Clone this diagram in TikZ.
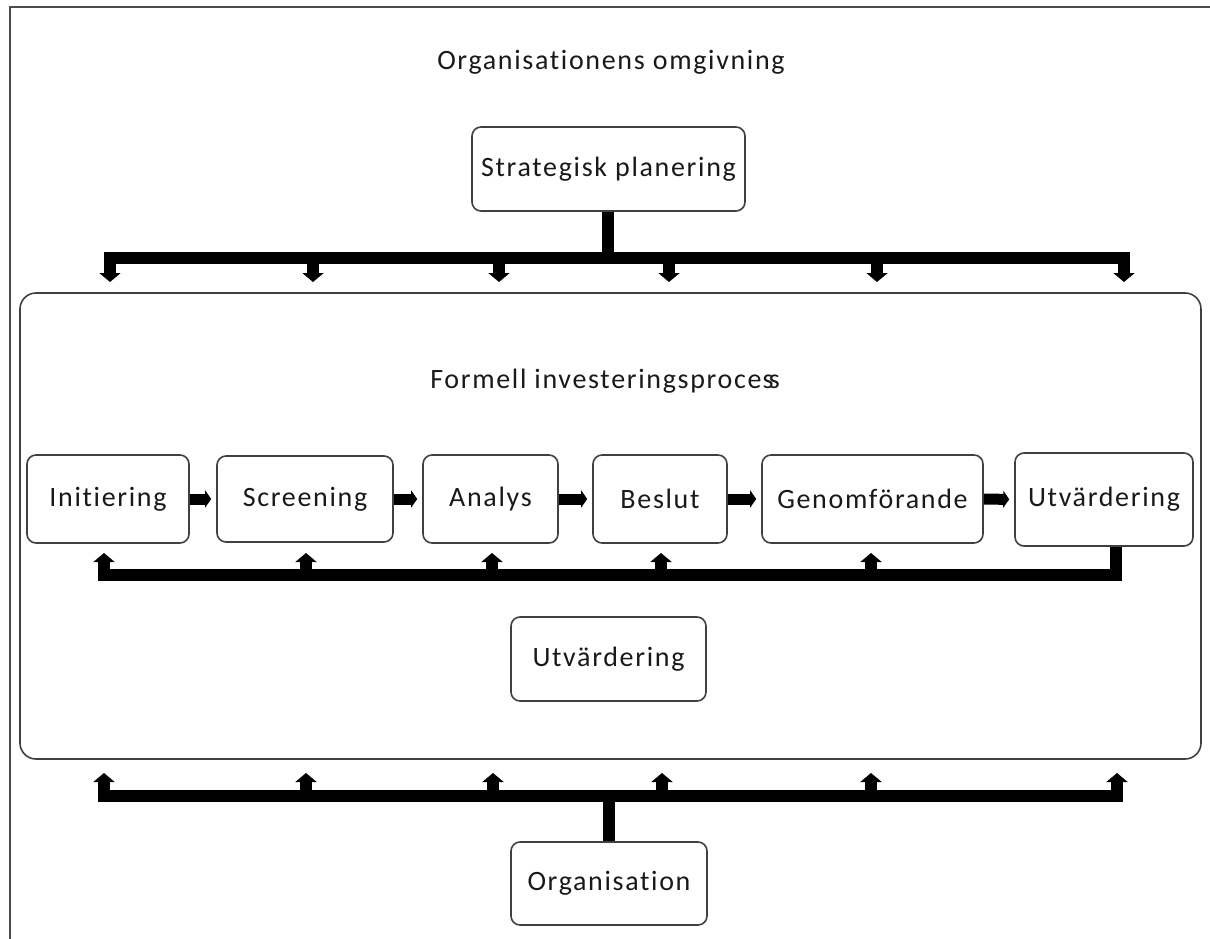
\documentclass[tikz,border=0pt]{standalone}
\usepackage{fontspec}
\setmainfont{Carlito}[Ligatures={NoCommon}, LetterSpace=6]
\usetikzlibrary{arrows.meta}
\begin{document}
\begin{tikzpicture}[x=1pt,y=-1pt,
  every node/.style={font=\fontsize{28}{32}\selectfont, text=black!90},
  box/.style={draw=black!75, line width=1.6pt, rounded corners=9pt, inner sep=0pt, align=center},
  bigbox/.style={draw=black!75, line width=1.6pt, rounded corners=16pt, inner sep=0pt},
  bus/.style={line width=12pt, line cap=rect, black},
  stem/.style={line width=12pt, black},
  uparr/.style={line width=12pt, black, -{Triangle[width=21pt,length=9pt]}},
  rarr/.style={line width=11pt, black, -{Triangle[width=17pt,length=6pt]}, shorten >=5pt},
  frame/.style={draw=black!70, line width=2.5pt}
]
\useasboundingbox (0,0) rectangle (1210,939);
\draw[frame] (10,939) -- (10,7) -- (1210,7);

\node (omg) at (611,62) {Organisationens omgivning};
\node[box, minimum width=273pt, minimum height=84pt] (strat) at (608.5,169) {Strategisk planering};

\node[bigbox, minimum width=1181pt, minimum height=466pt] (main) at (610.5,526) {};
\node (fip) at (605,381) {Formell investeringsproce\kern1pt s\kern-0.17em s};

\node[box, minimum width=162pt, minimum height=88pt] (init) at (108,499) {Initiering};
\node[box, minimum width=176pt, minimum height=86pt] (scr) at (305,499) {Screening};
\node[box, minimum width=135pt, minimum height=88pt] (ana) at (490.5,499) {Analys};
\node[box, minimum width=134pt, minimum height=88pt] (bes) at (660,499) {Beslut};
\node[box, minimum width=221pt, minimum height=88pt] (gen) at (872.5,499) {Genomförande};
\node[box, minimum width=178pt, minimum height=93pt] (utv) at (1104,499.5) {Utvärdering};

\node[box, minimum width=195pt, minimum height=84pt] (utv2) at (608.5,659) {Utvärdering};
\node[box, minimum width=196pt, minimum height=83pt] (org) at (609,883.5) {Organisation};

% horizontal arrows
\draw[rarr] (init.east) -- (scr.west);
\draw[rarr] (scr.east) -- (ana.west);
\draw[rarr] (ana.east) -- (bes.west);
\draw[rarr] (bes.east) -- (gen.west);
\draw[rarr] (gen.east) -- (utv.west);

% top bus
\coordinate (t0) at (608,258);
\coordinate (t1) at (110,258);
\coordinate (t6) at (1124,258);
\draw[stem] (strat.south -| t0) -- (t0);
\draw[bus] (t1) -- (t6);
\foreach \x in {110,313,499,669,877,1124}
  \draw[uparr] (\x,258) -- (\x,282);

% inner feedback bus
\coordinate (f0) at (104,574.5);
\coordinate (f6) at (1116,574.5);
\draw[stem] (utv.south -| f6) -- (f6);
\draw[bus] (f0) -- (f6);
\foreach \x in {104,306,492,661,871}
  \draw[uparr] (\x,574.5) -- (\x,553);

% bottom bus
\coordinate (b0) at (609,796);
\coordinate (b1) at (104,796);
\coordinate (b6) at (1117,796);
\draw[stem] (org.north -| b0) -- (b0);
\draw[bus] (b1) -- (b6);
\foreach \x in {104,306,493,662,871,1117}
  \draw[uparr] (\x,796) -- (\x,773);
\end{tikzpicture}
\end{document}
